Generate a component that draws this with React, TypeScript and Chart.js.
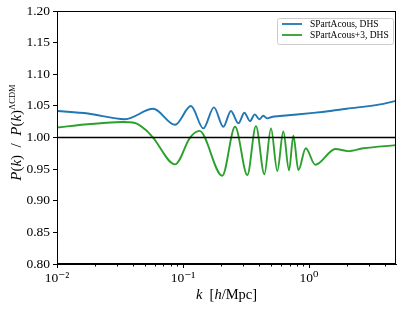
import React, { useEffect, useRef } from "react";
import { Chart, registerables } from "chart.js";

Chart.register(...registerables);

// ---- Data ----
const blueK = [0.01, 0.0176, 0.0347, 0.058, 0.0865, 0.1156, 0.145, 0.176, 0.209, 0.24, 0.275, 0.307, 0.34, 0.371, 0.403, 0.434, 0.467, 0.506, 0.589, 1.08, 1.47, 1.99, 3.66, 4.9];
const blueV = [1.042, 1.038, 1.029, 1.0455, 1.0202, 1.0498, 1.0145, 1.0477, 1.017, 1.042, 1.0225, 1.0392, 1.026, 1.0367, 1.0288, 1.0345, 1.0303, 1.0325, 1.034, 1.039, 1.042, 1.0455, 1.0525, 1.058];

const greenK = [0.01, 0.0176, 0.0328, 0.0416, 0.0499, 0.0578, 0.0865, 0.1138, 0.135, 0.205, 0.259, 0.324, 0.379, 0.442, 0.499, 0.56, 0.625, 0.694, 0.751, 0.823, 0.942, 1.12, 1.62, 2.04, 2.69, 4.9];
const greenV = [1.016, 1.021, 1.0245, 1.023, 1.013, 1.0, 0.9576, 1.0, 1.0105, 0.9396, 1.017, 0.9407, 1.018, 0.942, 1.0145, 0.947, 1.0095, 0.948, 1.003, 0.9486, 0.983, 0.957, 0.982, 0.9786, 0.983, 0.988];

const refK = [0.01, 4.9];
const refV = [1.0, 1.0];

const seriesNames = ["SPartAcous, DHS", "SPartAcous+3, DHS"];
const seriesColors = ["#1f77b4", "#2ca02c"];

const yTicks = [0.8, 0.85, 0.9, 0.95, 1.0, 1.05, 1.1, 1.15, 1.2];
const xMajor = [0.01, 0.1, 1];
const xMajorLabels = ["10\u207B\u00B2", "10\u207B\u00B9", "10\u2070"];
const xMin = 0.01;
const xMax = 4.9;

const SERIF = "'Liberation Serif', 'DejaVu Serif', serif";

function xyPairs(ks: number[], vs: number[]) {
  return ks.map((k, i) => ({ x: k, y: vs[i] }));
}

const decorPlugin = {
  id: "decor",
  afterDraw(chart: any) {
    const { ctx, chartArea } = chart;
    const { left, right, top, bottom } = chartArea;
    const xs = chart.scales.x;
    ctx.save();
    // frame
    ctx.strokeStyle = "#000";
    ctx.lineWidth = 1;
    ctx.strokeRect(Math.round(left) + 0.5, Math.round(top) + 0.5, Math.round(right - left) - 1, Math.round(bottom - top) - 1);
    // minor ticks on x
    for (let d = -2; d <= 0; d++) {
      for (let m = 2; m <= 9; m++) {
        const v = m * Math.pow(10, d);
        if (v > xMax) continue;
        const px = Math.round(xs.getPixelForValue(v)) + 0.5;
        ctx.beginPath();
        ctx.moveTo(px, Math.round(bottom));
        ctx.lineTo(px, Math.round(bottom) + 2.5);
        ctx.stroke();
      }
    }
    // legend
    const lx = 277, ly = 18, lw = 116, lh = 26;
    ctx.fillStyle = "rgba(255,255,255,0.8)";
    ctx.strokeStyle = "#cccccc";
    ctx.lineWidth = 1;
    ctx.beginPath();
    (ctx as any).roundRect(lx + 0.5, ly + 0.5, lw, lh, 2);
    ctx.fill();
    ctx.stroke();
    ctx.font = `9.5px ${SERIF}`;
    ctx.textBaseline = "middle";
    ctx.textAlign = "left";
    seriesNames.forEach((name, i) => {
      const yy = ly + 6 + i * 11;
      ctx.strokeStyle = seriesColors[i];
      ctx.lineWidth = 1.8;
      ctx.beginPath();
      ctx.moveTo(lx + 5, yy);
      ctx.lineTo(lx + 25, yy);
      ctx.stroke();
      ctx.fillStyle = "#000";
      ctx.fillText(name, lx + 33, yy + 0.5);
    });
    // x title: k [h/Mpc]
    const xParts: [string, string][] = [
      ["k", `italic 14.5px ${SERIF}`],
      ["  [", `14.5px ${SERIF}`],
      ["h", `italic 14.5px ${SERIF}`],
      ["/Mpc]", `14.5px ${SERIF}`],
    ];
    let tw = 0;
    xParts.forEach(([t, f]) => { ctx.font = f; tw += ctx.measureText(t).width; });
    let cx = (left + right) / 2 - tw / 2;
    ctx.fillStyle = "#000";
    ctx.textBaseline = "alphabetic";
    xParts.forEach(([t, f]) => { ctx.font = f; ctx.fillText(t, cx, 299); cx += ctx.measureText(t).width; });
    // y title
    const yParts: [string, string, number][] = [
      ["P", `italic 15px ${SERIF}`, 0],
      ["(", `15px ${SERIF}`, 0],
      ["k", `italic 15px ${SERIF}`, 0],
      [")  /  ", `15px ${SERIF}`, 0],
      ["P", `italic 15px ${SERIF}`, 0],
      ["(", `15px ${SERIF}`, 0],
      ["k", `italic 15px ${SERIF}`, 0],
      [")", `15px ${SERIF}`, 0],
      ["\u039BCDM", `8.5px ${SERIF}`, -6],
    ];
    tw = 0;
    yParts.forEach(([t, f]) => { ctx.font = f; tw += ctx.measureText(t).width; });
    ctx.translate(21, (top + bottom) / 2 - 5);
    ctx.rotate(-Math.PI / 2);
    cx = -tw / 2;
    yParts.forEach(([t, f, dy]) => { ctx.font = f; ctx.fillText(t, cx, dy); cx += ctx.measureText(t).width; });
    ctx.restore();
  },
};

export default function App() {
  const ref = useRef<HTMLCanvasElement | null>(null);
  useEffect(() => {
    if (!ref.current) return;
    const chart = new Chart(ref.current, {
      type: "line",
      data: {
        datasets: [
          {
            label: "ref",
            data: xyPairs(refK, refV),
            borderColor: "#000",
            borderWidth: 1.5,
            pointRadius: 0,
          },
          {
            label: seriesNames[0],
            data: xyPairs(blueK, blueV),
            borderColor: seriesColors[0],
            borderWidth: 1.9,
            pointRadius: 0,
            cubicInterpolationMode: "monotone",
          },
          {
            label: seriesNames[1],
            data: xyPairs(greenK, greenV),
            borderColor: seriesColors[1],
            borderWidth: 1.9,
            pointRadius: 0,
            cubicInterpolationMode: "monotone",
          },
        ],
      },
      plugins: [decorPlugin],
      options: {
        animation: false,
        responsive: true,
        maintainAspectRatio: false,
        layout: { padding: { top: 11, right: 11, left: 0, bottom: 0 } },
        plugins: { legend: { display: false }, tooltip: { enabled: false } },
        scales: {
          x: {
            type: "logarithmic",
            min: xMin,
            max: xMax,
            afterBuildTicks: (scale: any) => {
              scale.ticks = xMajor.map((v) => ({ value: v }));
            },
            afterFit: (scale: any) => { scale.height = 48; },
            ticks: {
              autoSkip: false,
              maxRotation: 0,
              padding: 2,
              color: "#000",
              font: { family: SERIF, size: 13.5 },
              callback: (v: any) => {
                const i = xMajor.findIndex((m) => Math.abs(m - Number(v)) / m < 1e-6);
                return i >= 0 ? xMajorLabels[i] : "";
              },
            },
            grid: { drawOnChartArea: false, drawTicks: true, tickLength: 4, color: "#000", tickWidth: 1 },
            border: { display: true, color: "#000", width: 1 },
          },
          y: {
            type: "linear",
            min: 0.8,
            max: 1.2,
            afterBuildTicks: (scale: any) => {
              scale.ticks = yTicks.map((v) => ({ value: v }));
            },
            afterFit: (scale: any) => { scale.width = 57; },
            ticks: {
              padding: 3,
              color: "#000",
              font: { family: SERIF, size: 13.5 },
              callback: (v: any) => Number(v).toFixed(2),
            },
            grid: { drawOnChartArea: false, drawTicks: true, tickLength: 4, color: "#000", tickWidth: 1 },
            border: { display: true, color: "#000", width: 1 },
          },
        },
      },
    } as any);
    return () => chart.destroy();
  }, []);
  return (
    <div style={{ position: "fixed", left: 0, top: 0, width: 407, height: 312, background: "#fff" }}>
      <canvas ref={ref} />
    </div>
  );
}
